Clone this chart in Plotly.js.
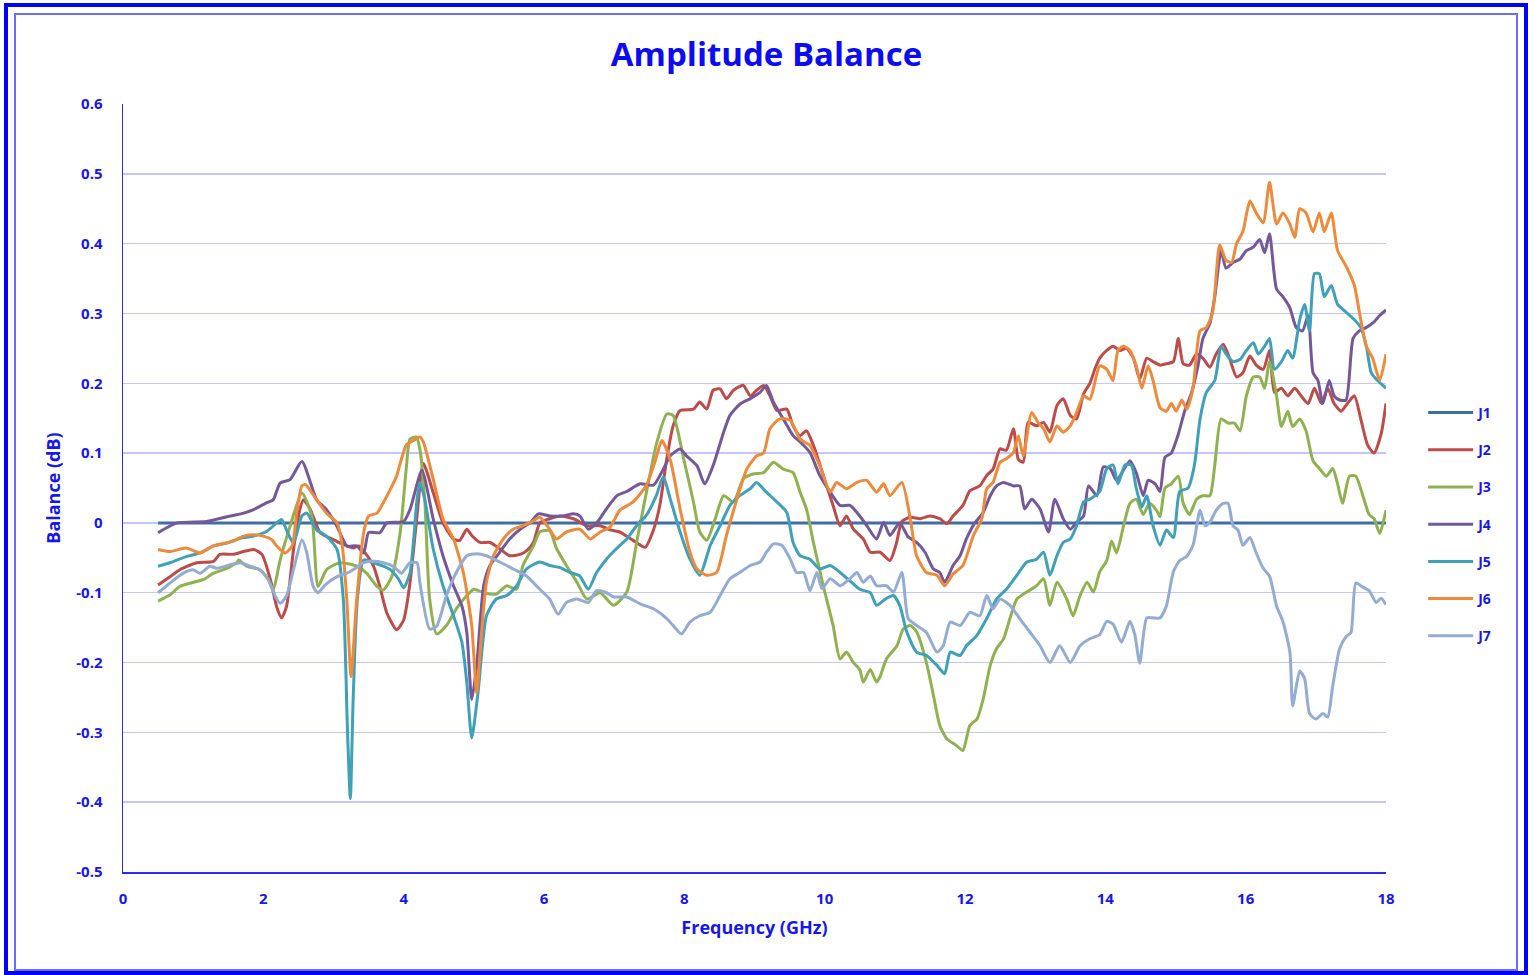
<!DOCTYPE html>
<html>
<head>
<meta charset="utf-8">
<script src="https://cdn.plot.ly/plotly-3.0.1.min.js"></script>
<style>
  body { margin: 0; background: #fff; }
  #outer { position: absolute; left: 4px; top: 3px; width: 1524px; height: 972px;
           box-sizing: border-box; border: 4px solid #0000ff; }
  #inner { position: absolute; left: 14px; top: 13px; width: 1504px; height: 958px;
           box-sizing: border-box; border: 2px solid #6b6bff; }
  #chart { position: absolute; left: 0; top: 0; width: 1533px; height: 975px; }
</style>
</head>
<body>
<div id="outer"></div>
<div id="inner"></div>
<div id="chart"></div>
<script>
// frequency (GHz) / balance (dB)
var j1x = [0.5, 18];
var j1y = [0, 0];

var j2x = [0.5,0.67,0.81,1.05,1.29,1.38,1.57,1.72,1.86,1.98,2.1,2.19,2.26,2.33,2.43,2.52,2.57,2.67,2.81,3.0,3.14,3.28,3.36,3.45,3.57,3.66,3.76,3.9,4.0,4.09,4.19,4.28,4.42,4.56,4.71,4.8,4.9,4.97,5.09,5.23,5.37,5.51,5.66,5.75,5.85,5.94,6.08,6.23,6.42,6.61,6.8,6.94,7.08,7.27,7.44,7.56,7.65,7.75,7.84,7.94,8.13,8.22,8.32,8.41,8.51,8.6,8.7,8.84,8.94,9.03,9.13,9.22,9.32,9.46,9.55,9.65,9.74,9.84,9.98,10.12,10.22,10.31,10.41,10.55,10.65,10.79,10.93,11.02,11.1,11.22,11.36,11.5,11.64,11.74,11.83,11.97,12.07,12.21,12.31,12.4,12.5,12.59,12.69,12.76,12.83,12.9,13.02,13.12,13.21,13.31,13.4,13.5,13.59,13.69,13.78,13.85,13.92,14.02,14.11,14.21,14.3,14.4,14.49,14.59,14.68,14.78,14.87,14.97,15.04,15.11,15.2,15.3,15.39,15.49,15.58,15.68,15.77,15.87,15.96,16.06,16.15,16.25,16.34,16.41,16.51,16.6,16.7,16.79,16.89,16.98,17.08,17.17,17.26,17.36,17.45,17.55,17.64,17.74,17.83,17.93,18.0];
var j2y = [-0.089,-0.077,-0.067,-0.057,-0.055,-0.045,-0.045,-0.041,-0.038,-0.045,-0.081,-0.12,-0.136,-0.12,-0.038,0.019,0.033,0.019,-0.014,-0.024,-0.031,-0.036,-0.033,-0.043,-0.062,-0.091,-0.129,-0.153,-0.139,-0.086,0.01,0.085,0.044,0.0,-0.023,-0.025,-0.009,-0.018,-0.028,-0.028,-0.037,-0.047,-0.045,-0.04,-0.028,0.0,0.006,0.01,0.006,-0.004,-0.004,-0.01,-0.013,-0.025,-0.035,-0.01,0.025,0.092,0.139,0.161,0.163,0.173,0.163,0.19,0.192,0.178,0.19,0.197,0.182,0.19,0.197,0.182,0.161,0.163,0.139,0.125,0.132,0.111,0.068,0.025,-0.004,0.01,-0.009,-0.023,-0.042,-0.042,-0.054,-0.03,0.002,0.008,0.006,0.01,0.006,-0.001,0.01,0.025,0.046,0.053,0.068,0.077,0.106,0.104,0.135,0.091,0.087,0.144,0.139,0.144,0.13,0.168,0.178,0.154,0.149,0.185,0.2,0.22,0.236,0.247,0.253,0.247,0.25,0.236,0.206,0.236,0.231,0.226,0.228,0.231,0.264,0.228,0.226,0.242,0.236,0.223,0.242,0.256,0.236,0.209,0.215,0.239,0.226,0.22,0.247,0.187,0.193,0.182,0.193,0.182,0.171,0.193,0.171,0.193,0.171,0.16,0.171,0.182,0.149,0.111,0.1,0.127,0.171];

var j3x = [0.5,0.67,0.81,1.05,1.15,1.29,1.48,1.62,1.65,1.76,1.95,2.07,2.14,2.24,2.38,2.55,2.69,2.78,2.9,3.09,3.33,3.47,3.62,3.71,3.83,3.95,4.04,4.09,4.18,4.23,4.3,4.37,4.47,4.61,4.75,4.9,5.0,5.14,5.32,5.47,5.61,5.7,5.85,5.94,6.08,6.18,6.32,6.47,6.61,6.8,6.99,7.18,7.32,7.46,7.61,7.75,7.84,7.99,8.13,8.22,8.32,8.44,8.56,8.7,8.84,8.98,9.13,9.27,9.41,9.55,9.65,9.74,9.84,9.98,10.12,10.22,10.31,10.41,10.5,10.55,10.65,10.74,10.79,10.88,11.03,11.12,11.22,11.31,11.45,11.55,11.64,11.74,11.88,11.97,12.07,12.17,12.26,12.36,12.45,12.55,12.64,12.74,12.88,13.02,13.12,13.21,13.31,13.45,13.54,13.64,13.74,13.83,13.92,14.02,14.09,14.16,14.26,14.35,14.44,14.54,14.63,14.73,14.78,14.85,14.94,15.04,15.11,15.2,15.3,15.39,15.49,15.56,15.65,15.75,15.84,15.92,16.01,16.11,16.2,16.27,16.34,16.44,16.51,16.6,16.67,16.77,16.86,16.96,17.05,17.15,17.24,17.31,17.38,17.48,17.57,17.67,17.76,17.83,17.91,18.0];
var j3y = [-0.112,-0.103,-0.091,-0.084,-0.081,-0.072,-0.065,-0.057,-0.053,-0.062,-0.067,-0.081,-0.096,-0.053,-0.005,0.043,0.01,-0.091,-0.067,-0.057,-0.062,-0.072,-0.091,-0.096,-0.077,-0.014,0.081,0.12,0.123,0.106,0.034,-0.109,-0.159,-0.147,-0.123,-0.104,-0.095,-0.1,-0.102,-0.09,-0.095,-0.061,-0.033,-0.013,-0.011,-0.037,-0.061,-0.085,-0.109,-0.1,-0.118,-0.099,-0.028,0.044,0.116,0.156,0.154,0.092,0.03,-0.013,-0.025,0.006,0.039,0.03,0.063,0.07,0.072,0.087,0.077,0.072,0.044,0.02,-0.028,-0.09,-0.147,-0.195,-0.185,-0.2,-0.21,-0.228,-0.21,-0.228,-0.22,-0.195,-0.176,-0.152,-0.147,-0.156,-0.2,-0.247,-0.29,-0.309,-0.319,-0.326,-0.29,-0.281,-0.252,-0.204,-0.18,-0.166,-0.137,-0.109,-0.099,-0.09,-0.08,-0.118,-0.085,-0.109,-0.133,-0.104,-0.085,-0.099,-0.07,-0.054,-0.026,-0.043,-0.004,0.028,0.034,0.012,0.028,0.018,0.009,0.05,0.056,0.067,0.028,0.012,0.034,0.039,0.039,0.083,0.149,0.143,0.143,0.132,0.182,0.209,0.209,0.193,0.231,0.182,0.138,0.16,0.138,0.149,0.132,0.089,0.078,0.067,0.078,0.056,0.028,0.067,0.067,0.039,0.012,0.006,-0.015,0.018];

var j4x = [0.5,0.77,1.19,1.53,1.72,1.86,2.05,2.14,2.24,2.38,2.55,2.76,2.9,3.05,3.19,3.33,3.43,3.5,3.66,3.76,4.0,4.09,4.26,4.42,4.56,4.71,4.83,4.9,4.97,5.04,5.14,5.23,5.37,5.51,5.66,5.8,5.92,6.08,6.27,6.42,6.51,6.63,6.75,6.89,7.04,7.18,7.37,7.56,7.7,7.8,7.94,8.03,8.18,8.29,8.41,8.56,8.65,8.79,8.94,9.08,9.17,9.27,9.41,9.55,9.65,9.79,9.93,10.08,10.22,10.36,10.5,10.6,10.74,10.84,10.93,11.07,11.19,11.31,11.43,11.55,11.64,11.71,11.83,11.93,12.02,12.14,12.26,12.36,12.45,12.55,12.69,12.78,12.85,12.95,13.07,13.19,13.28,13.4,13.5,13.59,13.69,13.76,13.88,13.97,14.07,14.16,14.35,14.44,14.54,14.61,14.71,14.78,14.85,14.94,15.04,15.13,15.23,15.32,15.39,15.49,15.56,15.65,15.72,15.82,15.92,16.01,16.11,16.2,16.27,16.34,16.44,16.53,16.63,16.72,16.81,16.89,16.96,17.03,17.1,17.19,17.26,17.34,17.43,17.53,17.62,17.72,17.81,17.91,18.0];
var j4y = [-0.014,0.0,0.002,0.01,0.014,0.019,0.029,0.033,0.057,0.062,0.088,0.033,0.019,-0.005,-0.033,-0.033,-0.043,-0.014,-0.014,0.0,0.002,0.019,0.075,0.006,-0.047,-0.09,-0.119,-0.157,-0.253,-0.205,-0.09,-0.061,-0.042,-0.023,-0.009,0.0,0.013,0.01,0.01,0.013,0.01,-0.009,0.0,0.02,0.039,0.045,0.056,0.054,0.077,0.096,0.106,0.096,0.082,0.056,0.082,0.13,0.154,0.17,0.178,0.187,0.197,0.173,0.149,0.125,0.116,0.101,0.068,0.044,0.025,0.025,0.01,-0.004,-0.023,0.001,-0.018,0.0,-0.02,-0.028,-0.042,-0.066,-0.071,-0.085,-0.061,-0.047,-0.023,0.0,0.015,0.039,0.053,0.058,0.053,0.053,0.02,0.034,0.02,-0.013,0.034,0.006,-0.009,0.001,0.01,0.053,0.039,0.08,0.078,0.061,0.089,0.072,0.039,0.061,0.056,0.045,0.094,0.1,0.127,0.16,0.187,0.225,0.264,0.286,0.324,0.39,0.365,0.373,0.378,0.39,0.395,0.406,0.387,0.414,0.335,0.324,0.308,0.28,0.275,0.297,0.215,0.204,0.171,0.204,0.182,0.176,0.176,0.264,0.275,0.28,0.286,0.297,0.305];

var j5x = [0.5,0.67,0.91,1.1,1.29,1.48,1.67,1.86,2.05,2.19,2.26,2.33,2.43,2.55,2.62,2.76,2.9,3.05,3.14,3.2,3.24,3.28,3.34,3.43,3.57,3.71,3.81,3.93,4.0,4.09,4.19,4.23,4.3,4.42,4.56,4.71,4.83,4.9,4.97,5.06,5.18,5.32,5.47,5.61,5.75,5.94,6.08,6.23,6.37,6.51,6.63,6.75,6.89,7.03,7.18,7.32,7.46,7.6,7.7,7.8,7.94,8.08,8.22,8.37,8.51,8.65,8.79,8.94,9.03,9.17,9.32,9.46,9.55,9.65,9.79,9.93,10.08,10.22,10.36,10.5,10.65,10.74,10.88,10.98,11.07,11.17,11.31,11.45,11.6,11.71,11.79,11.93,12.02,12.17,12.31,12.45,12.59,12.74,12.88,13.02,13.12,13.21,13.31,13.4,13.5,13.59,13.69,13.78,13.92,14.02,14.11,14.18,14.28,14.37,14.44,14.52,14.59,14.68,14.78,14.87,14.97,15.06,15.18,15.27,15.35,15.44,15.56,15.65,15.72,15.82,15.92,16.01,16.11,16.18,16.27,16.34,16.41,16.51,16.6,16.67,16.77,16.84,16.91,16.98,17.05,17.12,17.22,17.31,17.43,17.55,17.64,17.72,17.79,17.88,18.0];
var j5y = [-0.062,-0.057,-0.048,-0.043,-0.033,-0.029,-0.022,-0.019,-0.012,0.0,0.005,-0.01,-0.029,0.01,0.014,-0.01,-0.019,-0.038,-0.11,-0.3,-0.395,-0.253,-0.11,-0.053,-0.057,-0.062,-0.067,-0.081,-0.093,-0.072,0.033,0.058,0.034,-0.037,-0.09,-0.133,-0.171,-0.229,-0.308,-0.243,-0.133,-0.109,-0.104,-0.09,-0.066,-0.056,-0.061,-0.064,-0.071,-0.076,-0.095,-0.071,-0.052,-0.037,-0.023,-0.004,0.011,0.039,0.066,0.034,-0.013,-0.052,-0.075,-0.032,-0.004,0.025,0.039,0.049,0.058,0.044,0.03,0.015,-0.028,-0.047,-0.052,-0.066,-0.061,-0.071,-0.083,-0.095,-0.1,-0.118,-0.108,-0.104,-0.118,-0.156,-0.185,-0.19,-0.204,-0.216,-0.185,-0.19,-0.176,-0.161,-0.137,-0.109,-0.095,-0.075,-0.056,-0.052,-0.042,-0.075,-0.047,-0.028,-0.023,-0.004,0.03,0.034,0.045,0.078,0.083,0.056,0.083,0.083,0.05,0.023,0.039,-0.004,-0.032,-0.01,-0.021,0.045,0.05,0.083,0.149,0.187,0.204,0.253,0.242,0.231,0.234,0.247,0.258,0.242,0.253,0.264,0.22,0.231,0.247,0.236,0.291,0.313,0.275,0.357,0.357,0.324,0.34,0.313,0.302,0.291,0.28,0.253,0.215,0.204,0.193];

var j6x = [0.5,0.67,0.9,1.1,1.29,1.57,1.72,1.86,2.0,2.12,2.19,2.31,2.41,2.48,2.55,2.6,2.76,2.9,3.05,3.12,3.19,3.25,3.33,3.43,3.5,3.62,3.71,3.81,3.9,3.95,4.04,4.14,4.23,4.28,4.42,4.56,4.71,4.85,4.97,5.04,5.11,5.18,5.28,5.42,5.56,5.7,5.85,5.94,6.08,6.18,6.32,6.51,6.66,6.8,6.94,7.08,7.27,7.46,7.58,7.68,7.8,7.94,8.08,8.18,8.32,8.46,8.6,8.75,8.89,9.03,9.13,9.22,9.36,9.51,9.65,9.79,9.93,10.08,10.17,10.31,10.46,10.6,10.74,10.84,10.93,11.1,11.22,11.31,11.45,11.6,11.71,11.83,11.97,12.12,12.24,12.31,12.4,12.5,12.59,12.69,12.76,12.83,12.95,13.04,13.12,13.21,13.31,13.4,13.5,13.59,13.69,13.78,13.92,14.02,14.11,14.18,14.26,14.35,14.44,14.52,14.61,14.68,14.78,14.87,14.94,15.01,15.09,15.16,15.25,15.35,15.44,15.53,15.63,15.72,15.8,15.87,15.96,16.06,16.15,16.25,16.34,16.44,16.53,16.63,16.7,16.77,16.86,16.96,17.05,17.12,17.22,17.31,17.43,17.55,17.62,17.72,17.81,17.91,18.0];
var j6y = [-0.038,-0.041,-0.036,-0.043,-0.033,-0.026,-0.019,-0.017,-0.019,-0.024,-0.033,-0.043,-0.033,0.019,0.053,0.055,0.033,0.014,0.0,-0.029,-0.11,-0.22,-0.11,-0.014,0.01,0.014,0.029,0.048,0.067,0.085,0.112,0.118,0.123,0.116,0.063,0.006,-0.023,-0.071,-0.147,-0.243,-0.157,-0.085,-0.047,-0.023,-0.009,-0.004,0.003,0.008,-0.009,-0.023,-0.013,-0.009,-0.023,-0.013,-0.006,0.018,0.03,0.054,0.087,0.118,0.09,0.02,-0.042,-0.066,-0.075,-0.071,-0.018,0.034,0.077,0.096,0.1,0.135,0.149,0.147,0.12,0.111,0.082,0.044,0.058,0.049,0.058,0.061,0.044,0.056,0.039,0.058,0.006,-0.047,-0.071,-0.075,-0.09,-0.073,-0.061,-0.018,0.006,0.049,0.058,0.087,0.092,0.101,0.125,0.096,0.158,0.144,0.135,0.116,0.139,0.13,0.139,0.158,0.182,0.177,0.225,0.22,0.204,0.247,0.253,0.247,0.225,0.193,0.225,0.204,0.165,0.16,0.171,0.16,0.176,0.163,0.193,0.275,0.28,0.302,0.398,0.376,0.373,0.4,0.417,0.461,0.444,0.43,0.488,0.428,0.444,0.428,0.409,0.45,0.444,0.417,0.444,0.417,0.444,0.39,0.368,0.34,0.302,0.253,0.236,0.204,0.242];

var j7x = [0.5,0.67,0.86,1.0,1.1,1.24,1.34,1.53,1.67,1.81,1.95,2.07,2.17,2.24,2.33,2.43,2.55,2.62,2.71,2.78,2.88,3.05,3.19,3.28,3.43,3.57,3.71,3.85,3.97,4.09,4.19,4.23,4.37,4.47,4.61,4.75,4.9,5.04,5.18,5.37,5.56,5.75,5.94,6.08,6.2,6.32,6.47,6.63,6.75,6.89,6.99,7.18,7.37,7.56,7.75,7.84,7.96,8.08,8.22,8.37,8.51,8.65,8.79,8.94,9.08,9.17,9.27,9.39,9.51,9.6,9.7,9.79,9.89,9.96,10.08,10.22,10.36,10.46,10.55,10.65,10.74,10.88,10.98,11.1,11.19,11.31,11.45,11.6,11.69,11.79,11.93,12.07,12.21,12.31,12.4,12.5,12.64,12.78,12.93,13.07,13.21,13.35,13.5,13.64,13.78,13.92,14.02,14.11,14.23,14.35,14.42,14.49,14.59,14.68,14.78,14.87,14.97,15.06,15.16,15.25,15.35,15.42,15.49,15.58,15.68,15.75,15.82,15.89,15.96,16.06,16.15,16.25,16.34,16.44,16.53,16.63,16.67,16.77,16.84,16.91,17.0,17.1,17.17,17.24,17.34,17.43,17.5,17.57,17.67,17.76,17.86,17.93,18.0];
var j7y = [-0.1,-0.086,-0.072,-0.067,-0.072,-0.062,-0.065,-0.06,-0.057,-0.062,-0.067,-0.081,-0.105,-0.115,-0.105,-0.067,-0.024,-0.043,-0.091,-0.1,-0.089,-0.077,-0.072,-0.067,-0.057,-0.055,-0.057,-0.062,-0.072,-0.057,-0.057,-0.085,-0.152,-0.148,-0.104,-0.071,-0.047,-0.044,-0.047,-0.056,-0.066,-0.076,-0.095,-0.109,-0.131,-0.114,-0.109,-0.114,-0.097,-0.1,-0.106,-0.106,-0.116,-0.123,-0.137,-0.147,-0.159,-0.142,-0.133,-0.128,-0.104,-0.08,-0.071,-0.061,-0.056,-0.042,-0.03,-0.032,-0.052,-0.071,-0.071,-0.097,-0.071,-0.094,-0.08,-0.09,-0.08,-0.071,-0.085,-0.076,-0.09,-0.09,-0.099,-0.071,-0.137,-0.147,-0.157,-0.185,-0.176,-0.142,-0.147,-0.128,-0.133,-0.104,-0.123,-0.109,-0.118,-0.137,-0.157,-0.176,-0.2,-0.176,-0.2,-0.176,-0.166,-0.16,-0.141,-0.145,-0.171,-0.141,-0.16,-0.201,-0.136,-0.136,-0.136,-0.119,-0.07,-0.054,-0.048,-0.032,0.018,-0.004,0.001,0.018,0.028,0.028,-0.004,-0.01,-0.032,-0.021,-0.043,-0.065,-0.076,-0.119,-0.141,-0.185,-0.262,-0.212,-0.223,-0.273,-0.281,-0.273,-0.278,-0.234,-0.18,-0.163,-0.157,-0.086,-0.092,-0.097,-0.114,-0.108,-0.117];

var names = ['J1', 'J2', 'J3', 'J4', 'J5', 'J6', 'J7'];
var colors = ['#3f6ea6', '#be4b48', '#8fb24f', '#74589a', '#3fa0b9', '#ef8a3a', '#93acd3'];
var xs = [j1x, j2x, j3x, j4x, j5x, j6x, j7x];
var ys = [j1y, j2y, j3y, j4y, j5y, j6y, j7y];

// tick labels, with a plain hyphen as in the picture
var yTickVals = [-0.5, -0.4, -0.3, -0.2, -0.1, 0, 0.1, 0.2, 0.3, 0.4, 0.5, 0.6];
var yTickText = ['-0.5', '-0.4', '-0.3', '-0.2', '-0.1', '0', '0.1', '0.2', '0.3', '0.4', '0.5', '0.6'];

var blue = '#1616ee';
var data = [];
for (var i = 0; i < names.length; i++) {
  data.push({
    type: 'scatter',
    mode: 'lines',
    name: names[i],
    legendgroup: names[i],
    x: xs[i],
    y: ys[i],
    line: {color: colors[i], width: 3, shape: 'spline', smoothing: 0.6}
  });
}

var layout = {
  width: 1533,
  height: 975,
  paper_bgcolor: 'rgba(0,0,0,0)',
  plot_bgcolor: 'rgba(0,0,0,0)',
  margin: {l: 123, r: 147, t: 104, b: 103},
  font: {family: '"Open Sans", sans-serif', color: blue},
  title: {
    text: '<b>Amplitude Balance</b>',
    font: {size: 33, color: '#0c0cf2'},
    x: 0.5, xref: 'container', xanchor: 'center',
    y: 0.944, yref: 'container', yanchor: 'middle'
  },
  xaxis: {
    range: [0, 18],
    dtick: 2,
    showgrid: false,
    zeroline: false,
    showline: true,
    linecolor: '#2a2af0',
    linewidth: 1.5,
    ticks: '',
    ticklabelstandoff: 12,
    tickfont: {size: 15, color: blue, weight: 'bold'},
    title: {text: '<b>Frequency (GHz)</b>', font: {size: 18, color: blue}, standoff: 15}
  },
  yaxis: {
    range: [-0.5, 0.6],
    tickvals: yTickVals,
    ticktext: yTickText,
    showgrid: true,
    gridcolor: '#c4c4ff',
    gridwidth: 1.5,
    zeroline: false,
    showline: true,
    linecolor: '#2a2af0',
    linewidth: 1.5,
    ticks: '',
    ticklabelstandoff: 16,
    tickfont: {size: 15, color: blue, weight: 'bold'},
    title: {text: '<b>Balance (dB)</b>', font: {size: 18, color: blue}, standoff: 11}
  },
  showlegend: true,
  legend: {
    x: 1.0294, xanchor: 'left',
    y: 0.4525, yanchor: 'middle',
    traceorder: 'grouped',
    tracegroupgap: 16,
    font: {size: 14, color: blue, weight: 'bold'},
    bgcolor: 'rgba(0,0,0,0)',
    itemwidth: 45
  }
};

Plotly.newPlot('chart', data, layout, {displayModeBar: false, staticPlot: true});
</script>
</body>
</html>
